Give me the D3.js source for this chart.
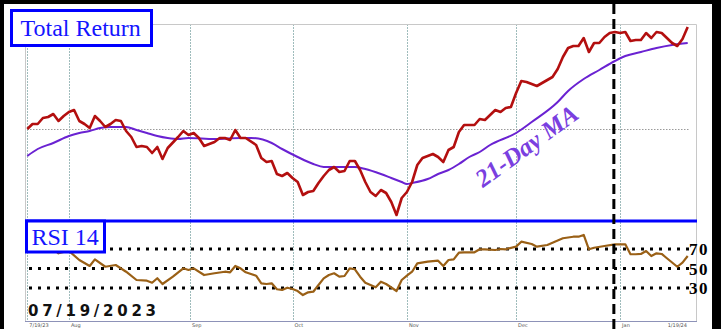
<!DOCTYPE html>
<html><head><meta charset="utf-8">
<script src="https://cdn.jsdelivr.net/npm/d3@7"></script>
<style>html,body{margin:0;padding:0;background:#fff;overflow:hidden}</style>
</head><body>
<svg id="c" width="721" height="329"></svg>
<script>
// trading-day index (0 = 07/19/2023 ... 127 = 01/19/2024)
const trDays = [0,1,2,3,4,5,6,7,8,9,10,11,12,13,14,15,16,17,18,19,20,21,22,23,24,25,26,27,29,30,31,32,33,34,36,37,38,39,40,41,42,44,45,46,47,48,49,50,51,52,53,54,55,56,57,58,59,60,61,62,63,64,65,66,67,68,69,70,71,72,73,74,75,76,77,78,79,80,81,82,83,84,85,86,87,88,89,90,91,92,93,94,95,96,97,98,99,101,102,103,104,105,106,107,108,109,110,111,112,113,114,115,116,117,118,119,120,121,122,123,124,125,126,127];
const trValues = [92,97,97,103,104,107,100,105,109,111,100,97,93,105,100,94,97,101,100,90,84,74,75,74,68,74,62,73,84,90,86,88,83,75,79,83,83,81,91,83,83,76,63,59,60,47,45,48,43,39,26,29,30,38,45,51,54,49,50,60,60,51,39,29,25,31,28,19,6,23,29,39,56,63,65,67,64,59,71,74,89,96,96,96,102,101,106,111,109,113,114,128,140,139,137,135,138,144,152,164,173,175,175,183,169,178,178,184,188,189,188,189,180,181,181,188,183,189,188,183,178,175,182,194];
const maDays = [0,2,5,8,10,12,14,16,19,21,23,25,27,29,31,36,41,43,47,49,52,55,57,60,63,65,68,70,72,73,74,77,79,81,83,85,87,89,94,97,102,104,107,110,113,115,118,121,124,127];
const maValues = [65,72,78,85,88,90,93,94,94,91,88,85,83,82,83,82,83,83,78,72,64,57,54,54,54,52,47,43,39,37,38,42,47,51,57,64,69,76,88,99,119,130,142,151,160,165,169,173,176,178];
const rsiDays = [3,4,5,6,7,8,10,12,13,15,17,19,21,23,24,25,26,28,30,31,32,34,36,38,39,40,41,42,44,45,46,47,48,49,50,51,52,53,54,55,56,57,58,59,60,61,62,63,64,65,67,68,69,71,72,73,74,75,77,79,80,81,82,83,84,86,87,88,90,91,92,94,95,97,98,100,101,103,105,106,107,108,109,111,113,114,115,116,117,118,119,120,121,122,123,125,126,127];
const rsiValues = [74,73,70,65.6,67,68,58.7,52.6,59.4,51.8,53.6,46.7,38.2,37.5,35.4,40,34.1,41.6,50.2,48.5,50.2,43.3,45.1,46.7,46.1,52.6,50.2,46.1,42.6,34.8,34.1,34.8,28.7,28,30.3,29,26.9,22.8,25.6,26.2,33.1,39.9,43.3,45.1,41.6,42.3,50.2,49.2,41.6,35.4,30.7,36.5,34.1,26.9,38.2,42.6,46.7,55.3,57,58,52.6,58.7,59.4,66.2,66.6,66.6,69.7,69.7,69,70,69.7,72.4,77.5,75.1,72.4,74.1,76.5,81,82.6,82.6,84.4,69.7,71.3,73.1,74.8,74.8,74.8,64.6,64.6,64.9,67.9,62.8,65.6,64.9,60.5,51.8,56,62.8];
const rsiLevels = [70,50,30];
const monthTicks = [0,8,31.3,51,73,94,114];
const monthLabels = ["7/19/23","Aug","Sep","Oct","Nov","Dec","Jan"];
const endTick = 124.5, endLabel = "1/19/24";
const markerDay = 112.8;   // dashed vertical marker
const dateLabel = "07/19/2023";

const svg = d3.select("#c");
const L = 25, R = 697, T = 24, SEP = 221, B = 321;
const x = d3.scaleLinear().domain([0,127]).range([27.3,687.7]);
const yTop = d3.scaleLinear().domain([0,197]).range([SEP,T]);
const yRsi = d3.scaleLinear().domain([30,70]).range([288,249]);

svg.append("rect").attr("width",721).attr("height",329).attr("fill","#fff");

// vertical grid
svg.selectAll(".vg").data(monthTicks).enter().append("line")
  .attr("x1",d=>Math.round(x(d))+0.5).attr("x2",d=>Math.round(x(d))+0.5)
  .attr("y1",T).attr("y2",B).attr("stroke","#9fbcbc").attr("stroke-width",1).attr("stroke-dasharray","2,1");
// plot border
svg.append("path").attr("d",`M${L+0.5},${B} V${T+0.5} H${R-0.5} V${B}`).attr("fill","none").attr("stroke","#c8c8c8").attr("stroke-width",1);
// baseline (start value)
svg.append("line").attr("x1",L+2).attr("x2",690).attr("y1",Math.round(yTop(trValues[0]))+0.5).attr("y2",Math.round(yTop(trValues[0]))+0.5)
  .attr("stroke","#9a9a9a").attr("stroke-dasharray","1.5,1.5");
// bottom axis
svg.append("line").attr("x1",L).attr("x2",R).attr("y1",B+0.5).attr("y2",B+0.5).attr("stroke","#8d92b8");
svg.selectAll(".ml").data(monthTicks).enter().append("text")
  .attr("x",d=>x(d)+2).attr("y",327).text((d,i)=>monthLabels[i])
  .attr("font-family","DejaVu Sans").attr("font-size",5).attr("fill","#555");
svg.append("text").attr("x",x(endTick)-7).attr("y",327).text(endLabel).attr("font-family","DejaVu Sans").attr("font-size",5).attr("fill","#555");

// MA line
const maData = maDays.map((d,i)=>[d,maValues[i]]);
svg.append("path").datum(maData).attr("fill","none").attr("stroke","#6a22d2").attr("stroke-width",2)
  .attr("d",d3.line().x(d=>x(d[0])).y(d=>yTop(d[1])).curve(d3.curveMonotoneX));
// Total return
const trData = trDays.map((d,i)=>[d,trValues[i]]);
svg.append("path").datum(trData).attr("fill","none").attr("stroke","#b30f0f").attr("stroke-width",2.6).attr("stroke-linejoin","round")
  .attr("d",d3.line().x(d=>x(d[0])).y(d=>yTop(d[1])));

// 21-Day MA label
svg.append("text").attr("transform","translate(483,188) rotate(-36)")
  .attr("font-family","Liberation Serif").attr("font-weight","bold").attr("font-style","italic")
  .attr("font-size",25).attr("fill","#7a3fe0").text("21-Day MA");

// separator
svg.append("line").attr("x1",L).attr("x2",R).attr("y1",SEP).attr("y2",SEP).attr("stroke","#0000ff").attr("stroke-width",3);

// RSI levels
svg.selectAll(".lv").data(rsiLevels).enter().append("line")
  .attr("x1",29).attr("x2",690).attr("y1",d=>yRsi(d)).attr("y2",d=>yRsi(d))
  .attr("stroke","#000").attr("stroke-width",3).attr("stroke-dasharray","3,6");
svg.selectAll(".lt").data(rsiLevels).enter().append("text")
  .attr("x",689).attr("y",d=>yRsi(d)+6).text(d=>d)
  .attr("font-family","Liberation Serif").attr("font-weight","bold").attr("font-size",17)
  .attr("letter-spacing",1.5).attr("fill","#000");
// RSI line
const rsiData = rsiDays.map((d,i)=>[d,rsiValues[i]]);
svg.append("path").datum(rsiData).attr("fill","none").attr("stroke","#9a6016").attr("stroke-width",2.2).attr("stroke-linejoin","round")
  .attr("d",d3.line().x(d=>x(d[0])).y(d=>yRsi(d[1])));

// title boxes
svg.append("rect").attr("x",11.5).attr("y",10.5).attr("width",140).attr("height",35).attr("fill","#fff").attr("stroke","#0000ff").attr("stroke-width",3);
svg.append("text").attr("x",20.5).attr("y",36).text("Total Return").attr("font-family","Liberation Serif").attr("font-size",24).attr("fill","#1414ff");
svg.append("rect").attr("x",26.5).attr("y",221).attr("width",78).attr("height",31).attr("fill","#fff").attr("stroke","#0000ff").attr("stroke-width",3);
svg.append("text").attr("x",31.5).attr("y",245).text("RSI 14").attr("font-family","Liberation Serif").attr("font-size",24).attr("fill","#1414ff");

// date label
svg.append("text").attr("x",28).attr("y",316).text(dateLabel).attr("font-family","DejaVu Sans").attr("font-weight","bold")
  .attr("font-size",15).attr("textLength",128).attr("lengthAdjust","spacing").attr("fill","#111");

// dashed marker
svg.append("line").attr("x1",x(markerDay)).attr("x2",x(markerDay)).attr("y1",4).attr("y2",329)
  .attr("stroke","#000").attr("stroke-width",3).attr("stroke-dasharray","10,5");

// frame
svg.append("rect").attr("x",0).attr("y",0).attr("width",721).attr("height",4).attr("fill","#000");
svg.append("rect").attr("x",0).attr("y",0).attr("width",4).attr("height",329).attr("fill","#000");
svg.append("rect").attr("x",712).attr("y",0).attr("width",9).attr("height",329).attr("fill","#000");
</script>
</body></html>
